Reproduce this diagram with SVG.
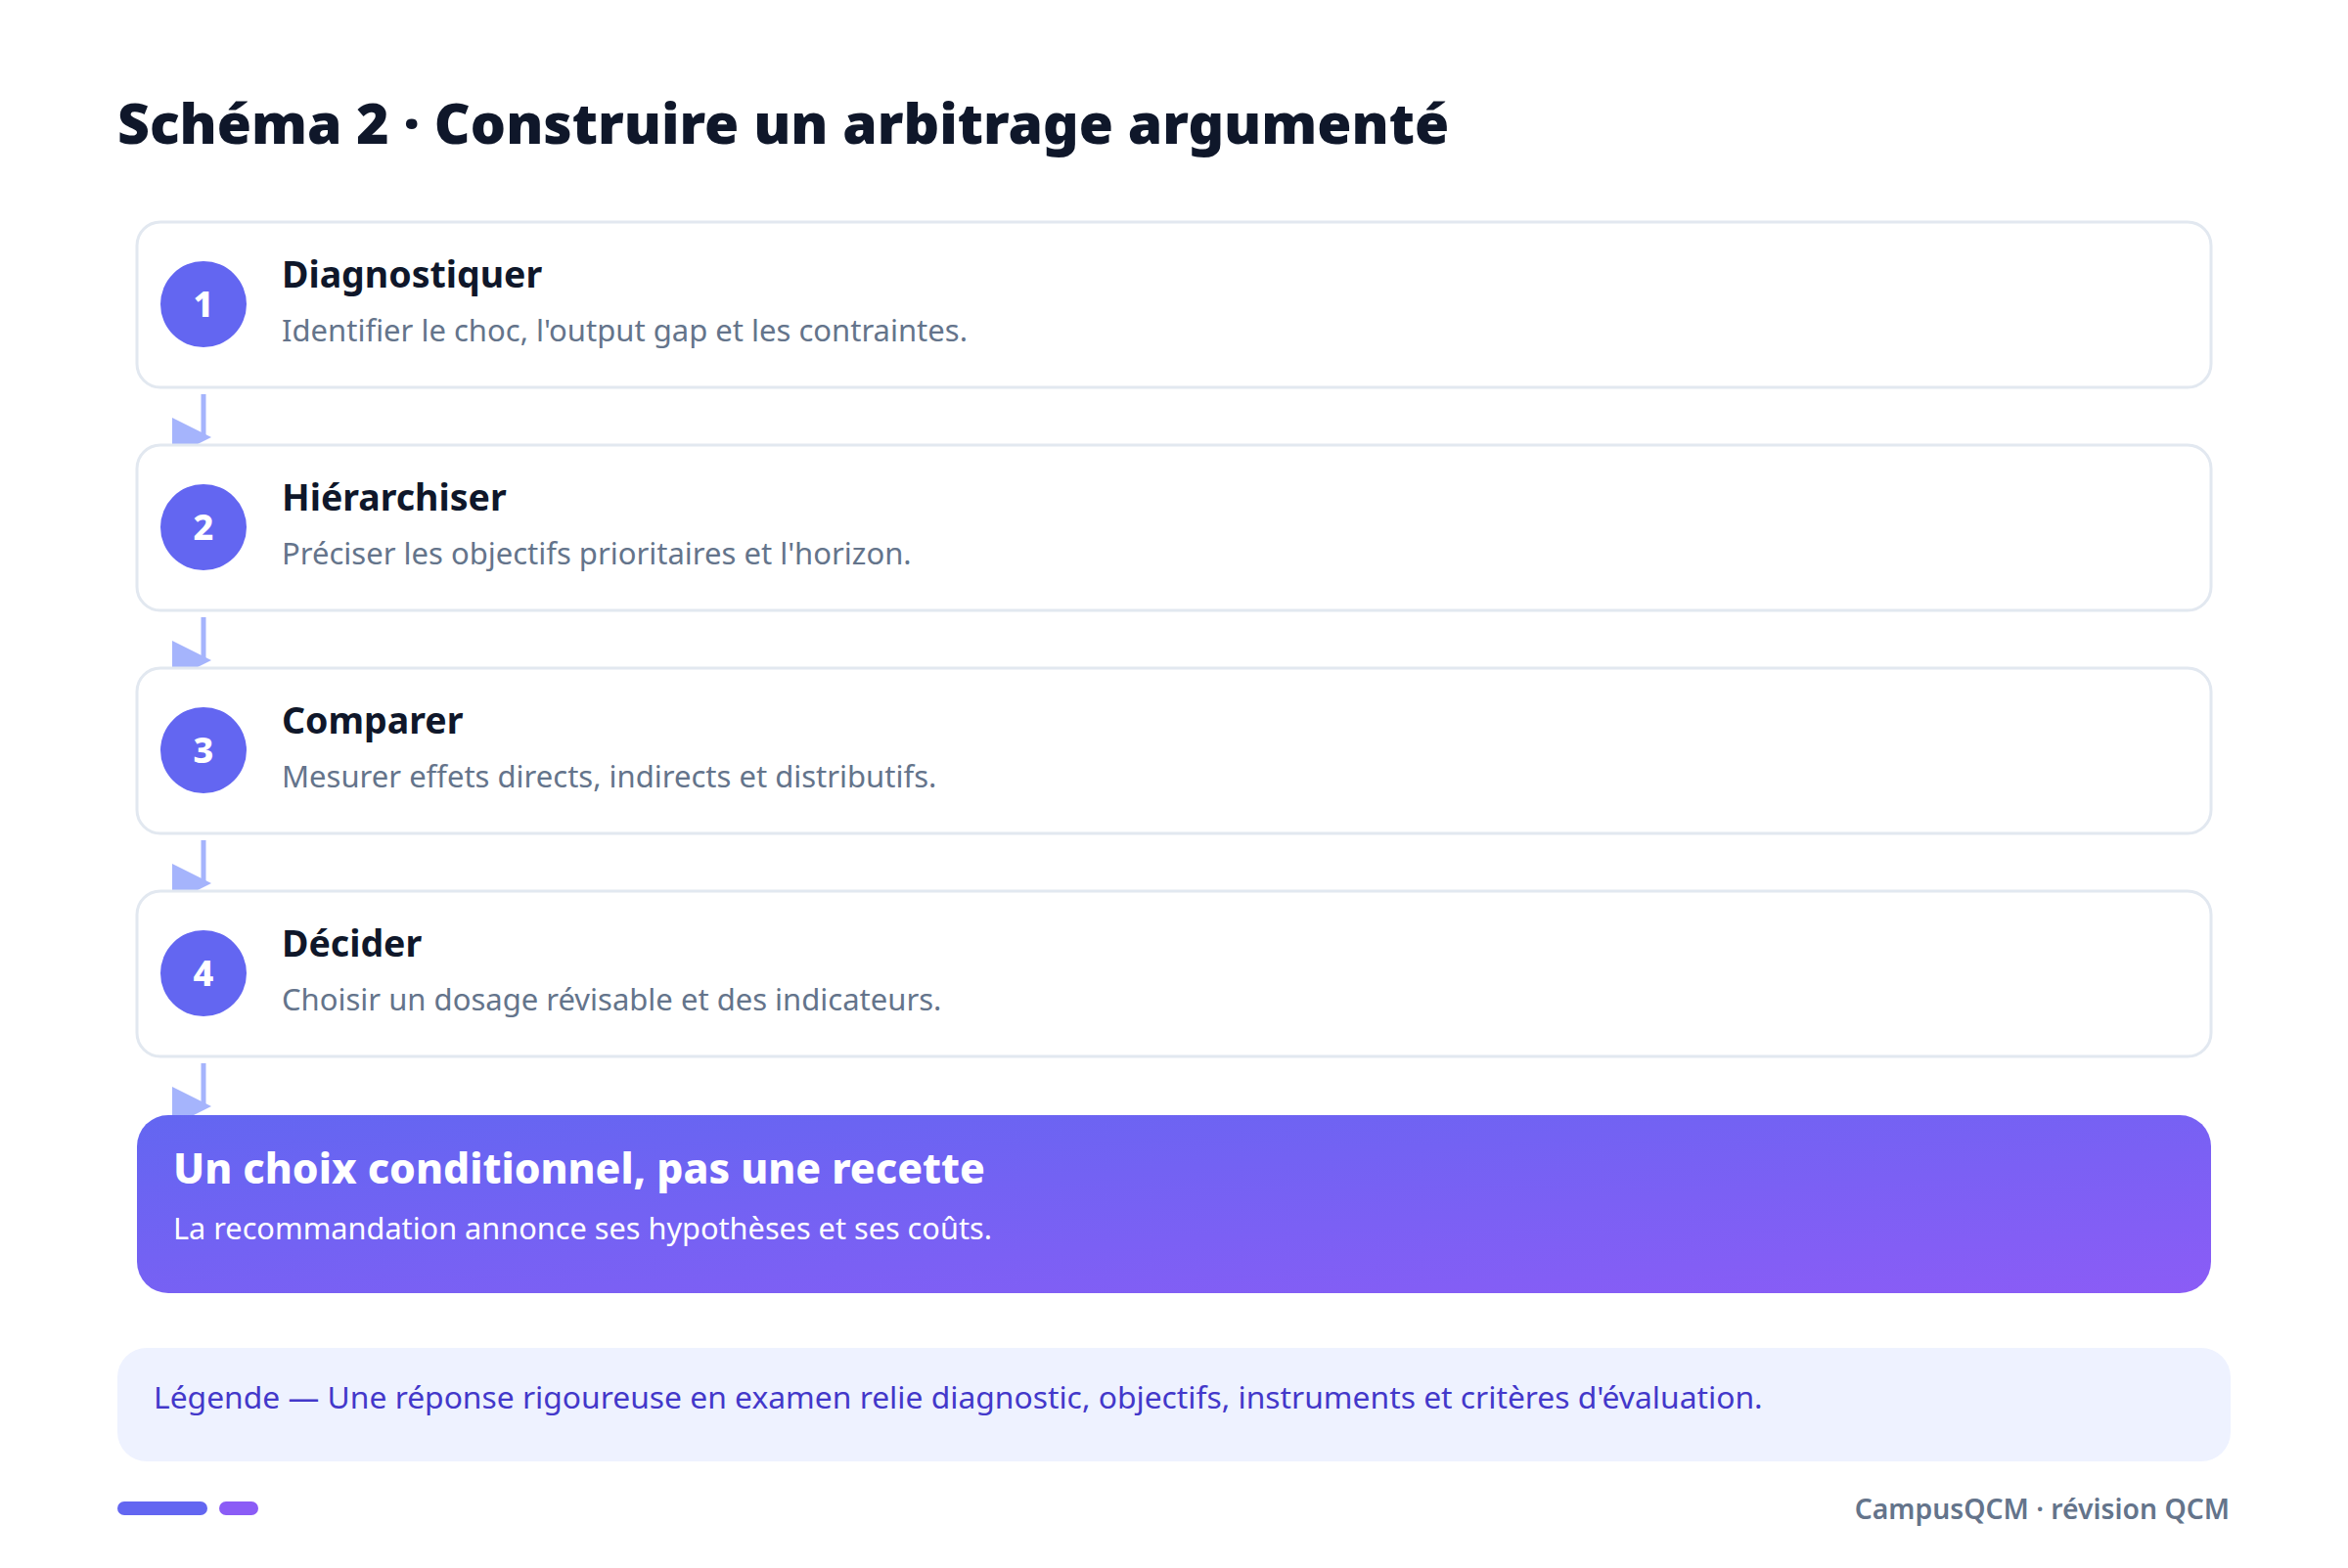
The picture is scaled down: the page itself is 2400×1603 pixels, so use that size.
<svg xmlns="http://www.w3.org/2000/svg" width="2400" height="1603" viewBox="0 0 2400 1603">
<defs>
<linearGradient id="gFinal" x1="0" y1="0" x2="1" y2="1">
<stop offset="0" stop-color="#6366f1"/>
<stop offset="1" stop-color="#8b5cf6"/>
</linearGradient>
<marker id="arrow" viewBox="0 0 10 10" refX="8" refY="5" markerWidth="40" markerHeight="40" markerUnits="userSpaceOnUse">
<path d="M0,0 L10,5 L0,10 z" fill="#a5b4fc"/>
</marker>
<style>
text{font-family:"Noto Sans","Open Sans","DejaVu Sans",sans-serif}
.title{font-size:57px;font-weight:900;fill:#0f172a}
.card{fill:#ffffff;stroke:#e2e8f0;stroke-width:3}
.num{fill:#6366f1}
.numt{font-size:36px;font-weight:800;fill:#ffffff;text-anchor:middle}
.st{font-size:37.5px;font-weight:700;fill:#0f172a}
.sd{font-size:31px;font-weight:400;fill:#64748b}
.conn{stroke:#a5b4fc;stroke-width:5;fill:none}
.ft{font-size:42.6px;font-weight:800;fill:#ffffff}
.fd{font-size:30.7px;font-weight:400;fill:#ffffff}
.lg{font-size:31.8px;font-weight:400;fill:#4338ca}
.foot{font-size:28.3px;font-weight:600;fill:#64748b;text-anchor:end}
</style>
</defs>
<rect width="2400" height="1603" fill="#ffffff"/>
<text class="title" x="120" y="147">Schéma 2 · Construire un arbitrage argumenté</text>

<g id="connectors">
<line class="conn" x1="208" y1="403" x2="208" y2="447" marker-end="url(#arrow)"/>
<line class="conn" x1="208" y1="631" x2="208" y2="675" marker-end="url(#arrow)"/>
<line class="conn" x1="208" y1="859" x2="208" y2="903" marker-end="url(#arrow)"/>
<line class="conn" x1="208" y1="1087" x2="208" y2="1131" marker-end="url(#arrow)"/>
</g>

<g id="step1">
<rect class="card" x="140" y="227" width="2120" height="169" rx="24"/>
<circle class="num" cx="208" cy="311" r="44"/>
<text class="numt" x="208" y="324">1</text>
<text class="st" x="288" y="294">Diagnostiquer</text>
<text class="sd" x="288" y="349">Identifier le choc, l'output gap et les contraintes.</text>
</g>
<g id="step2">
<rect class="card" x="140" y="455" width="2120" height="169" rx="24"/>
<circle class="num" cx="208" cy="539" r="44"/>
<text class="numt" x="208" y="552">2</text>
<text class="st" x="288" y="522">Hiérarchiser</text>
<text class="sd" x="288" y="577">Préciser les objectifs prioritaires et l'horizon.</text>
</g>
<g id="step3">
<rect class="card" x="140" y="683" width="2120" height="169" rx="24"/>
<circle class="num" cx="208" cy="767" r="44"/>
<text class="numt" x="208" y="780">3</text>
<text class="st" x="288" y="750">Comparer</text>
<text class="sd" x="288" y="805">Mesurer effets directs, indirects et distributifs.</text>
</g>
<g id="step4">
<rect class="card" x="140" y="911" width="2120" height="169" rx="24"/>
<circle class="num" cx="208" cy="995" r="44"/>
<text class="numt" x="208" y="1008">4</text>
<text class="st" x="288" y="978">Décider</text>
<text class="sd" x="288" y="1033">Choisir un dosage révisable et des indicateurs.</text>
</g>
<g id="conclusion">
<rect x="140" y="1140" width="2120" height="182" rx="32" fill="url(#gFinal)"/>
<text class="ft" x="177" y="1210">Un choix conditionnel, pas une recette</text>
<text class="fd" x="177" y="1267">La recommandation annonce ses hypothèses et ses coûts.</text>
</g>
<g id="legend">
<rect x="120" y="1378" width="2160" height="116" rx="30" fill="#eef2ff"/>
<text class="lg" x="157" y="1440">Légende — Une réponse rigoureuse en examen relie diagnostic, objectifs, instruments et critères d'évaluation.</text>
</g>
<g id="footer">
<rect x="120" y="1535" width="92" height="14" rx="7" fill="#6366f1"/>
<rect x="224" y="1535" width="40" height="14" rx="7" fill="#8b5cf6"/>
<text class="foot" x="2279" y="1553">CampusQCM · révision QCM</text>
</g>
</svg>
